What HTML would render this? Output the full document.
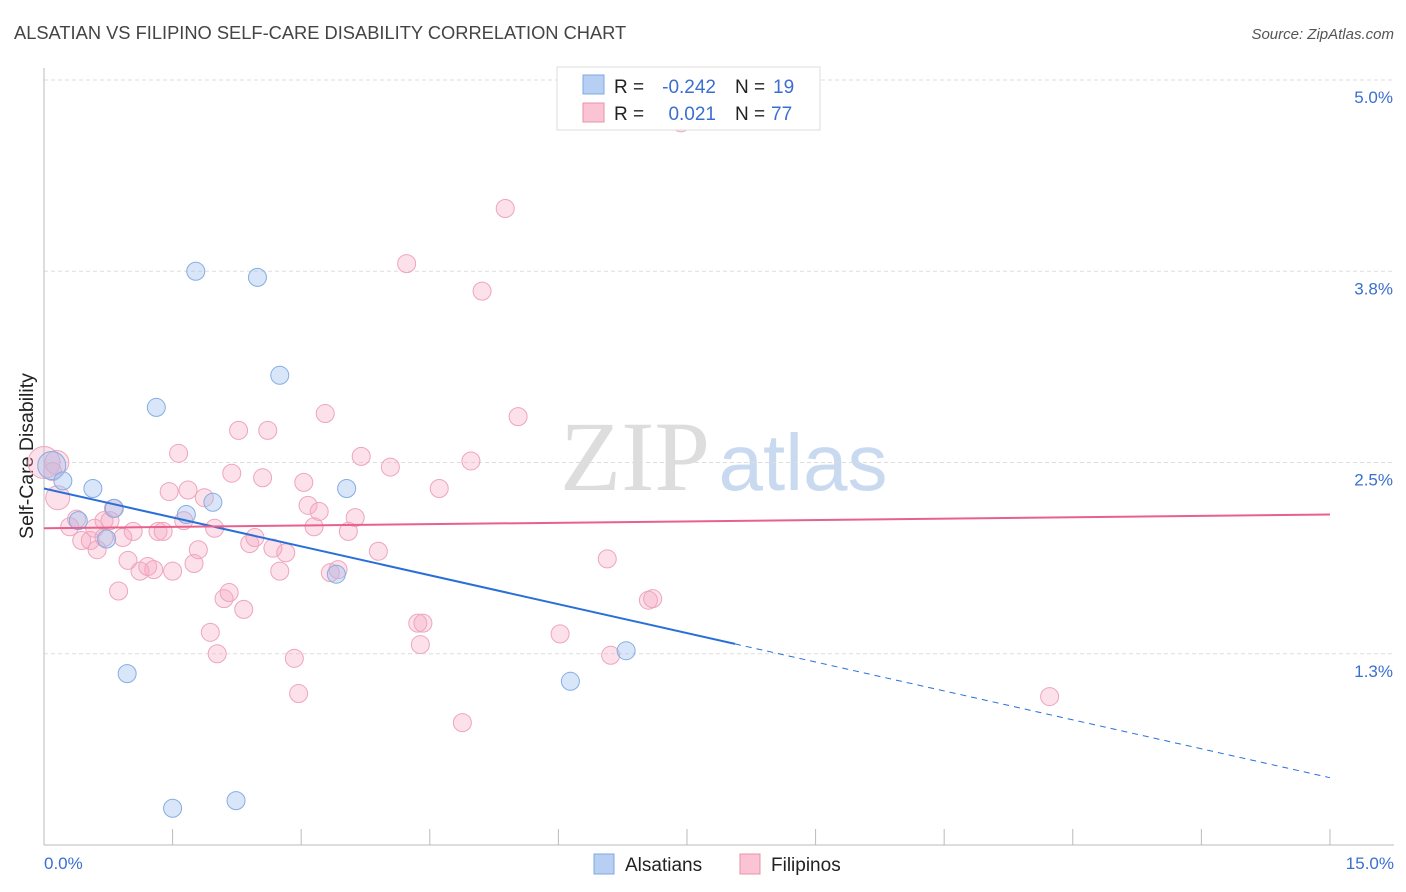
<!DOCTYPE html>
<html><head><meta charset="utf-8"><style>
body{margin:0;background:#fff;font-family:"Liberation Sans",sans-serif}
svg{display:block}
</style></head><body>
<svg id="c" width="1406" height="892">
<text x="14" y="39" font-size="18.3" fill="#444">ALSATIAN VS FILIPINO SELF-CARE DISABILITY CORRELATION CHART</text>
<text x="1394" y="39" font-size="15" fill="#555" text-anchor="end" font-style="italic">Source: ZipAtlas.com</text>
<g>
<text x="635" y="490" font-size="100" fill="#ddd" font-family="Liberation Serif,serif" text-anchor="middle">ZIP</text>
<text x="803" y="490" font-size="80" fill="#c9daf0" text-anchor="middle">atlas</text>
</g>
<g id="grid"></g>
<line x1="44" y1="68" x2="44" y2="845" stroke="#bbb"/>
<line x1="44" y1="845" x2="1394" y2="845" stroke="#bbb"/>
<g id="xt"></g>
<text x="33" y="456" font-size="19.5" fill="#222" text-anchor="middle" transform="rotate(-90 33 456)">Self-Care Disability</text>
<text x="44" y="869" font-size="17" fill="#3a6fd0">0.0%</text>
<text x="1394" y="869" font-size="17" fill="#3a6fd0" text-anchor="end">15.0%</text>
<g id="pts"></g>
<g id="lines"></g>
<g>
<rect x="557" y="67" width="263" height="63" fill="#fff" stroke="#ddd"/>
<rect x="583" y="75" width="21" height="19" fill="#b6cff3" stroke="#7ea8e0"/>
<rect x="583" y="103" width="21" height="19" fill="#fac4d4" stroke="#e890ab"/>
<text x="614" y="93" font-size="19" fill="#222">R =</text>
<text x="716" y="93" font-size="19" fill="#3a6fd0" text-anchor="end">-0.242</text>
<text x="735" y="93" font-size="19" fill="#222">N =</text>
<text x="773" y="93" font-size="19" fill="#3a6fd0">19</text>
<text x="614" y="120" font-size="19" fill="#222">R =</text>
<text x="716" y="120" font-size="19" fill="#3a6fd0" text-anchor="end">0.021</text>
<text x="735" y="120" font-size="19" fill="#222">N =</text>
<text x="771" y="120" font-size="19" fill="#3a6fd0">77</text>
</g>
<g>
<rect x="594" y="854" width="20" height="20" fill="#b6cff3" stroke="#7ea8e0"/>
<text x="625" y="871" font-size="19" fill="#222">Alsatians</text>
<rect x="740" y="854" width="20" height="20" fill="#fac4d4" stroke="#e890ab"/>
<text x="771" y="871" font-size="19" fill="#222">Filipinos</text>
</g>
</svg>
<script>
const yTicks=[1.25,2.5,3.75,5.0];
const yTickLabels=["1.3%","2.5%","3.8%","5.0%"];
const xTicks=[0,1.5,3,4.5,6,7.5,9,10.5,12,13.5,15];
const blueX=[0.09,0.22,0.40,0.57,0.73,0.82,0.97,1.31,1.50,1.66,1.77,1.97,2.24,2.49,2.75,3.41,3.53,6.14,6.79];
const blueY=[2.48,2.38,2.12,2.33,2.00,2.20,1.12,2.86,0.24,2.16,3.75,2.24,0.29,3.71,3.07,1.77,2.33,1.07,1.27];
const pinkX=[0,0.15,0.16,0.10,0.30,0.38,0.44,0.54,0.62,0.59,0.70,0.70,0.77,0.81,0.87,0.92,0.98,1.04,1.12,1.21,1.28,1.33,1.39,1.46,1.50,1.57,1.63,1.68,1.75,1.80,1.87,1.94,1.99,2.02,2.10,2.16,2.19,2.27,2.33,2.40,2.46,2.55,2.61,2.67,2.75,2.82,2.92,2.97,3.03,3.08,3.15,3.21,3.28,3.34,3.43,3.55,3.63,3.70,3.90,4.04,4.23,4.36,4.39,4.42,4.61,4.88,4.98,5.11,5.38,5.53,6.02,6.57,6.61,7.05,7.10,7.43,11.73];
const pinkY=[2.50,2.50,2.27,2.44,2.08,2.13,1.99,1.99,1.93,2.07,2.01,2.12,2.12,2.20,1.66,2.01,1.86,2.05,1.79,1.82,1.80,2.05,2.05,2.31,1.79,2.56,2.12,2.32,1.84,1.93,2.27,1.39,2.07,1.25,1.61,1.65,2.43,2.71,1.54,1.97,2.01,2.40,2.71,1.94,1.79,1.91,1.22,0.99,2.37,2.22,2.08,2.18,2.82,1.78,1.80,2.05,2.14,2.54,1.92,2.47,3.80,1.45,1.31,1.45,2.33,0.80,2.51,3.62,4.16,2.80,1.38,1.87,1.24,1.60,1.61,4.72,0.97];
const pinkR=[16,12,12,9,9,9,9,9,9,9,9,9,9,9,9,9,9,9,9,9,9,9,9,9,9,9,9,9,9,9,9,9,9,9,9,9,9,9,9,9,9,9,9,9,9,9,9,9,9,9,9,9,9,9,9,9,9,9,9,9,9,9,9,9,9,9,9,9,9,9,9,9,9,9,9,9,9];
const blueR=[14,9,9,9,9,9,9,9,9,9,9,9,9,9,9,9,9,9,9];
const blueFit=[2.33,-0.126];
const pinkFit=[2.07,0.006];
const blueSolidEnd=8.06;
const X=v=>44+v*85.73, Y=v=>845-v*153.0;
const NS="http://www.w3.org/2000/svg";
function mk(t,a,p){const e=document.createElementNS(NS,t);for(const k in a)e.setAttribute(k,a[k]);p.appendChild(e);return e;}
const grid=document.getElementById('grid');
yTicks.forEach((t,i)=>{
  const l=mk('line',{x1:44,x2:1394,y1:Y(t),y2:Y(t),stroke:'#ddd','stroke-dasharray':'4 3'},grid);
  
  
  const tx=mk('text',{x:1393,y:Y(t)+23,'font-size':17,fill:'#3a6fd0','text-anchor':'end'},grid);
  tx.textContent=yTickLabels[i];
  
  
});
const xt=document.getElementById('xt');
xTicks.forEach(t=>{
  const l=mk('line',{x1:X(t),x2:X(t),y1:829,y2:845,stroke:'#bbb'},xt);
  
  
});
const pts=document.getElementById('pts');
pinkX.forEach((x,i)=>{
  const c=mk('circle',{cx:X(x),cy:Y(pinkY[i]),r:pinkR[i],fill:'rgba(245,170,195,0.35)',stroke:'#eea5bc','stroke-width':1},pts);
  
  
});
blueX.forEach((x,i)=>{
  const c=mk('circle',{cx:X(x),cy:Y(blueY[i]),r:blueR[i],fill:'rgba(160,192,240,0.4)',stroke:'#85ade2','stroke-width':1},pts);
  
  
});
const lines=document.getElementById('lines');
const f=(p,x)=>p[0]+p[1]*x;
let l1=mk('line',{x1:X(0),y1:Y(f(blueFit,0)),x2:X(blueSolidEnd),y2:Y(f(blueFit,blueSolidEnd)),stroke:'#2a6fd8','stroke-width':2},lines);


let l2=mk('line',{x1:X(blueSolidEnd),y1:Y(f(blueFit,blueSolidEnd)),x2:X(15),y2:Y(f(blueFit,15)),stroke:'#2a6fd8','stroke-width':1,'stroke-dasharray':'6 5'},lines);


let l3=mk('line',{x1:X(0),y1:Y(f(pinkFit,0)),x2:X(15),y2:Y(f(pinkFit,15)),stroke:'#e8618c','stroke-width':2},lines);


</script>
</body></html>
